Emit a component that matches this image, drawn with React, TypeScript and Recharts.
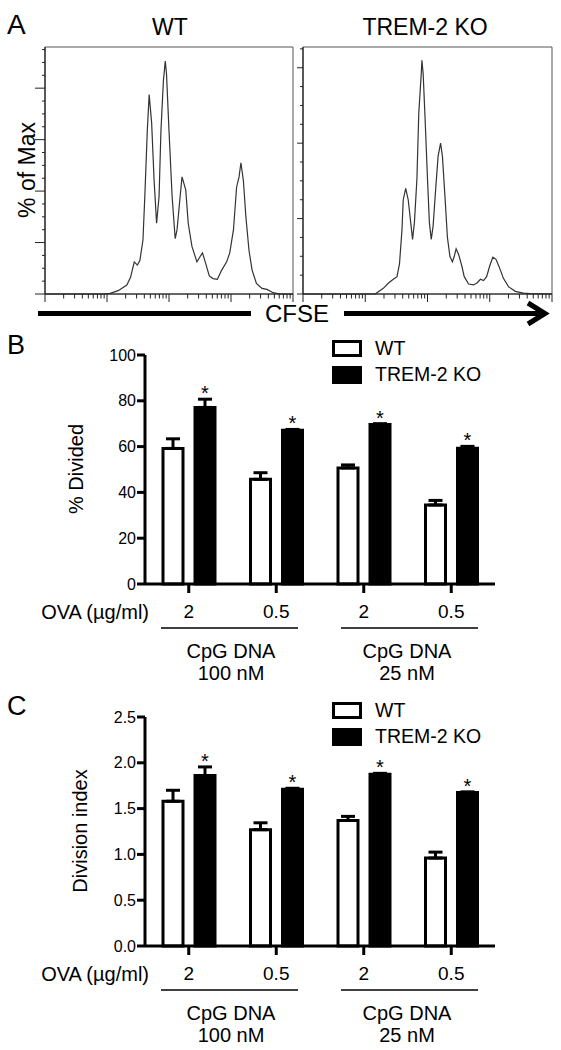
import React from 'react';
import { LineChart, Line, BarChart, Bar, XAxis, YAxis, ErrorBar, LabelList, Legend, ReferenceArea } from 'recharts';

const FONT = '"Liberation Sans", Arial, Helvetica, sans-serif';

// A: CFSE histograms, x = log10(CFSE), y = events
const wtLogCfse = [1.0, 1.95, 2.05, 2.18, 2.32, 2.38, 2.44, 2.49, 2.53, 2.58, 2.61, 2.65, 2.68, 2.72, 2.76, 2.8, 2.84, 2.87, 2.91, 2.94, 2.96, 3.0, 3.05, 3.1, 3.13, 3.18, 3.21, 3.27, 3.31, 3.37, 3.45, 3.5, 3.54, 3.59, 3.65, 3.71, 3.78, 3.85, 3.93, 3.98, 4.04, 4.09, 4.13, 4.16, 4.2, 4.24, 4.29, 4.34, 4.41, 4.5, 4.58, 4.68, 4.79, 5.0];
const wtEvents = [0, 0, 0.5, 2.6, 7, 13, 25, 22.5, 26, 42, 76, 127, 155, 133, 88, 55, 76, 127, 166, 181, 171, 127, 76, 43, 50, 76, 91, 81, 55, 37, 25, 29, 32, 24, 14, 12, 11.4, 18.6, 25, 32, 50, 83, 91, 102, 88, 60, 34, 18.6, 8.3, 4.4, 3.6, 1, 0, 0];
const koLogCfse = [1.0, 2.16, 2.21, 2.29, 2.37, 2.45, 2.51, 2.55, 2.59, 2.61, 2.65, 2.69, 2.73, 2.76, 2.79, 2.83, 2.86, 2.9, 2.91, 2.93, 2.96, 3.0, 3.03, 3.06, 3.09, 3.13, 3.17, 3.21, 3.24, 3.28, 3.32, 3.36, 3.4, 3.43, 3.46, 3.5, 3.55, 3.59, 3.66, 3.74, 3.8, 3.85, 3.9, 3.95, 4.0, 4.05, 4.1, 4.15, 4.22, 4.3, 4.41, 4.54, 4.65, 5.0];
const koEvents = [0, 0, 1.2, 3, 5.7, 7.8, 9.2, 16, 34, 50, 56, 50, 38, 29, 38, 61, 96, 117, 124, 117, 94, 61, 38, 29, 36, 55, 73, 80, 73, 52, 30, 20, 17, 20, 24, 21, 15, 9.2, 5.3, 4.8, 6, 7.8, 7.1, 9.2, 15, 19.5, 18.4, 14.5, 8.3, 3.9, 1.4, 0.5, 0.2, 0];

// B and C
const ovaDoses = ['2', '0.5', '2', '0.5'];
const dividedWT = [59.2, 45.7, 50.7, 34.5];
const dividedWTErr = [4.2, 2.9, 1.3, 2.0];
const dividedKO = [77.1, 67.1, 69.7, 59.3];
const dividedKOErr = [3.6, 0.4, 0.3, 0.8];
const indexWT = [1.58, 1.27, 1.37, 0.96];
const indexWTErr = [0.12, 0.075, 0.045, 0.065];
const indexKO = [1.86, 1.71, 1.875, 1.675];
const indexKOErr = [0.095, 0.012, 0.01, 0.008];
const dividedTicks = [0, 20, 40, 60, 80, 100];
const indexTicks = [0, 0.5, 1, 1.5, 2, 2.5];

const logTicks: number[] = [];
for (let d = 1; d < 5; d++) for (let k = 1; k < 10; k++) logTicks.push(d + Math.log10(k));
logTicks.push(5);

const countTicks = (max: number) => Array.from({ length: max / 10 + 1 }, (_, i) => i * 10);

function Histogram({ left, width, logs, events, yMax, tickMax, majorLen }: any) {
  const data = logs.map((x: number, i: number) => ({ x, n: events[i] }));
  const xTick = (p: any) => {
    const v = p.payload.value;
    const major = Math.abs(v - Math.round(v)) < 1e-6;
    return <line x1={p.x} x2={p.x} y1={p.y} y2={p.y + (major ? 8 : 4.5)} stroke="#222" strokeWidth={1} />;
  };
  const yTick = (p: any) => {
    const major = p.payload.value % 40 === 0;
    return <line x1={p.x - (major ? majorLen : 3)} x2={p.x} y1={p.y} y2={p.y} stroke="#222" strokeWidth={1} />;
  };
  return (
    <div style={{ position: 'absolute', left: left - 15, top: 42 }}>
      <LineChart width={15 + width + 5} height={264} data={data} margin={{ top: 5, right: 5, left: 0, bottom: 0 }}>
        <ReferenceArea x1={1} x2={5} y1={0} y2={yMax} fill="none" stroke="#555" strokeWidth={1} ifOverflow="visible" />
        <XAxis type="number" dataKey="x" domain={[1, 5]} ticks={logTicks} interval={0} height={12}
          tickSize={0} tickMargin={0} tickLine={false} axisLine={{ stroke: '#222', strokeWidth: 1.2 }} tick={xTick} />
        <YAxis type="number" domain={[0, yMax]} ticks={countTicks(tickMax)} interval={0} width={15}
          tickSize={0} tickMargin={0} tickLine={false} axisLine={{ stroke: '#222', strokeWidth: 1.2 }} tick={yTick} />
        <Line dataKey="n" type="linear" stroke="#333" strokeWidth={1.2} dot={false} isAnimationActive={false} />
      </LineChart>
    </div>
  );
}

const LegendBox = () => (
  <div style={{ fontFamily: FONT, fontSize: 19.5, color: '#000' }}>
    <div style={{ display: 'flex', alignItems: 'center', height: 26.5 }}>
      <span style={{ display: 'inline-block', width: 24, height: 11, border: '3px solid #000', background: '#fff', marginRight: 13 }} />
      WT
    </div>
    <div style={{ display: 'flex', alignItems: 'center', height: 26.5 }}>
      <span style={{ display: 'inline-block', width: 30, height: 18, background: '#000', marginRight: 13 }} />
      TREM-2 KO
    </div>
  </div>
);

const makeStar = (errs: number[]) => (p: any) => {
  const vb = p.viewBox && p.viewBox.height !== undefined ? p.viewBox : p;
  const v = Number(p.value);
  const i = p.index ?? 0;
  const errTop = vb.y - (errs[i] * vb.height) / v;
  return (
    <text x={vb.x + vb.width / 2} y={errTop + 1} textAnchor="middle" fontSize={20} fontFamily={FONT} fill="#000">*</text>
  );
};

function BarPanel({ top, wt, wtErr, ko, koErr, yMax, yTicks, fmt }: any) {
  const rows = ovaDoses.map((dose, i) => ({
    dose,
    wt: wt[i],
    ko: ko[i],
    wtErr: [0, wtErr[i]],
    koErr: [0, koErr[i]],
  }));
  const line = { stroke: '#000', strokeWidth: 3 };
  return (
    <div style={{ position: 'absolute', left: 0, top: top - 20 }}>
      <BarChart width={561} height={289} data={rows} margin={{ top: 20, right: 66, left: 95, bottom: 0 }} barSize={20} barGap={12}>
        <XAxis dataKey="dose" height={40} tickSize={9} tickMargin={12} interval={0} axisLine={line} tickLine={line}
          tick={{ fill: '#000', fontSize: 19, fontFamily: FONT }} />
        <YAxis type="number" domain={[0, yMax]} ticks={yTicks} interval={0} width={50} tickSize={8} tickMargin={1}
          tickFormatter={fmt} axisLine={line} tickLine={line} tick={{ fill: '#000', fontSize: 16, fontFamily: FONT }} />
        <Legend layout="vertical" align="center" verticalAlign="middle" content={<LegendBox />}
          wrapperStyle={{ left: 332, top: 0, width: 200 }} />
        <Bar dataKey="wt" fill="#fff" stroke="#000" strokeWidth={3} isAnimationActive={false}>
          <ErrorBar dataKey="wtErr" direction="y" width={7} stroke="#000" strokeWidth={3} />
        </Bar>
        <Bar dataKey="ko" fill="#000" stroke="#000" strokeWidth={3} isAnimationActive={false}>
          <ErrorBar dataKey="koErr" direction="y" width={7} stroke="#000" strokeWidth={3} />
          <LabelList dataKey="ko" content={makeStar(koErr)} />
        </Bar>
      </BarChart>
    </div>
  );
}

function GroupLabels({ dy }: { dy: number }) {
  return (
    <g fontFamily={FONT} fill="#000">
      <text x={149} y={619 + dy} fontSize={20} textAnchor="end">OVA (µg/ml)</text>
      <line x1={161} x2={298} y1={628 + dy} y2={628 + dy} stroke="#000" strokeWidth={1.5} />
      <line x1={341} x2={478} y1={628 + dy} y2={628 + dy} stroke="#000" strokeWidth={1.5} />
      <text x={231} y={658 + dy} fontSize={20} textAnchor="middle">CpG DNA</text>
      <text x={231} y={680 + dy} fontSize={20} textAnchor="middle">100 nM</text>
      <text x={407} y={658 + dy} fontSize={20} textAnchor="middle">CpG DNA</text>
      <text x={407} y={680 + dy} fontSize={20} textAnchor="middle">25 nM</text>
    </g>
  );
}

export default function App() {
  return (
    <div style={{ position: 'relative', width: 561, height: 1050, background: '#fff', fontFamily: FONT, overflow: 'hidden' }}>
      <style>{'body{margin:0}'}</style>
      <Histogram left={45} width={248} logs={wtLogCfse} events={wtEvents} yMax={192} tickMax={190} majorLen={10} />
      <Histogram left={303} width={249} logs={koLogCfse} events={koEvents} yMax={131} tickMax={130} majorLen={6} />
      <BarPanel top={355} wt={dividedWT} wtErr={dividedWTErr} ko={dividedKO} koErr={dividedKOErr}
        yMax={100} yTicks={dividedTicks} fmt={(v: number) => String(v)} />
      <BarPanel top={717} wt={indexWT} wtErr={indexWTErr} ko={indexKO} koErr={indexKOErr}
        yMax={2.5} yTicks={indexTicks} fmt={(v: number) => v.toFixed(1)} />
      <svg width={561} height={1050} style={{ position: 'absolute', left: 0, top: 0, pointerEvents: 'none' }}>
        <g fontFamily={FONT} fill="#000">
          <text x={7} y={34} fontSize={28}>A</text>
          <text x={170} y={35} fontSize={23} textAnchor="middle">WT</text>
          <text x={425} y={35} fontSize={23} textAnchor="middle">TREM-2 KO</text>
          <text transform="translate(27,170) rotate(-90)" fontSize={23} textAnchor="middle" dominantBaseline="central">% of Max</text>
          <line x1={38} x2={251} y1={313.5} y2={313.5} stroke="#000" strokeWidth={5} />
          <text x={297} y={322} fontSize={24} textAnchor="middle">CFSE</text>
          <line x1={344} x2={543} y1={313.5} y2={313.5} stroke="#000" strokeWidth={5} />
          <polyline points="528,303 545,313.5 528,324" fill="none" stroke="#000" strokeWidth={5} />
          <text x={7} y={354} fontSize={27}>B</text>
          <text transform="translate(76,469) rotate(-90)" fontSize={20} textAnchor="middle" dominantBaseline="central">% Divided</text>
          <text x={7} y={715} fontSize={27}>C</text>
          <text transform="translate(80,831) rotate(-90)" fontSize={20} textAnchor="middle" dominantBaseline="central">Division index</text>
        </g>
        <GroupLabels dy={0} />
        <GroupLabels dy={362} />
      </svg>
    </div>
  );
}
